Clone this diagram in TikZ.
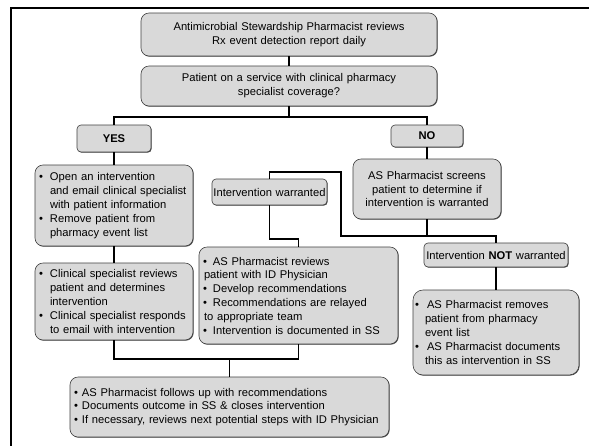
\documentclass[tikz,border=0pt]{standalone}
\usepackage{fontspec}
\setmainfont{Liberation Sans}
\usetikzlibrary{shadows}
\newcommand\bl[1]{\makebox[#1][l]{\textbullet}}
\newcommand\ind[1]{\hspace*{#1}}
\begin{document}
\begin{tikzpicture}[x=1pt,y=-1pt,
  box/.style={draw=black!75, fill=black!15, line width=0.6pt, rounded corners=8pt,
    inner xsep=4pt, inner ysep=0pt, font=\fontsize{11.2}{13.8}\selectfont,
    drop shadow={shadow xshift=0.7pt, shadow yshift=-0.7pt, fill=black!70, opacity=1}},
  sbox/.style={box, rounded corners=4pt},
  ctr/.style={align=center},
  lft/.style={align=left},
  link/.style={line width=1.8pt, draw=black},
  frame/.style={line width=2.3pt, draw=black}
]
\useasboundingbox (0,0) rectangle (589,445);
\fill[white] (0,0) rectangle (589,445);
\draw[frame] (589,8) -- (11,8) -- (11,446);

% nodes
\node[box, ctr, text width=288pt, minimum height=43pt] (b1) at (289,34.5)
  {Antimicrobial Stewardship Pharmacist reviews\\Rx event detection report daily};
\node[box, ctr, text width=288pt, minimum height=40pt] (b2) at (289,86)
  {Patient on a service with clinical pharmacy\\specialist coverage?};
\node[sbox, ctr, text width=66pt, minimum height=27pt] (yes) at (114,138.5) {\textbf{YES}};
\node[sbox, ctr, text width=64pt, minimum height=22pt] (no) at (427,136) {\textbf{NO}};
\node[box, lft, text width=150pt, minimum height=81pt] (b3) at (114,205.5)
  {\bl{11pt}Open an intervention\\
   \ind{11pt}and email clinical specialist\\
   \ind{11pt}with patient information\\
   \bl{11pt}Remove patient from\\
   \ind{11pt}pharmacy event list};
\node[box, lft, text width=150pt, minimum height=77pt] (b4) at (114,301.5)
  {\bl{11pt}Clinical specialist reviews\\
   \ind{11pt}patient and determines\\
   \ind{11pt}intervention\\
   \bl{11pt}Clinical specialist responds\\
   \ind{11pt}to email with intervention};
\node[sbox, ctr, inner xsep=1pt, text width=113pt, minimum height=26pt] (iw) at (269.5,192)
  {Intervention warranted};
\node[box, lft, text width=191pt, minimum height=97pt] (b5) at (298.5,295.5)
  {\bl{10pt}AS Pharmacist reviews\\
   \ind{1pt}patient with ID Physician\\
   \bl{10pt}Develop recommendations\\
   \bl{10pt}Recommendations are relayed\\
   \ind{1pt}to appropriate team\\
   \bl{10pt}Intervention is documented in SS};
\node[box, ctr, text width=140pt, minimum height=60pt] (scr) at (427,189)
  {AS Pharmacist screens\\patient to determine if\\intervention is warranted};
\node[sbox, ctr, inner xsep=1pt, text width=142pt, minimum height=24pt] (inw) at (496,255)
  {Intervention \textbf{NOT} warranted};
\node[box, lft, inner xsep=2pt, text width=162pt, minimum height=85pt, rounded corners=10pt] (b7) at (496,332.5)
  {\bl{12pt}AS Pharmacist removes\\
   \ind{10pt}patient from pharmacy\\
   \ind{10pt}event list\\
   \bl{12pt}AS Pharmacist documents\\
   \ind{10pt}this as intervention in SS};
\node[box, lft, text width=311pt, minimum height=60pt] (b6) at (229.5,407)
  {\bl{8pt}AS Pharmacist follows up with recommendations\\
   \bl{8pt}Documents outcome in SS \& closes intervention\\
   \bl{8pt}If necessary, reviews next potential steps with ID Physician};

% junction coordinates
\coordinate (j1) at (289,117);
\coordinate (j3) at (341,236);
\coordinate (j4) at (341,172);
\coordinate (j5) at (269.5,239);
\coordinate (j7) at (298.5,359);

% connectors
\draw[link] (b1.south) -- (b2.north);
\draw[link] (b2.south) -- (j1);
\draw[link] (yes.north) |- (j1) -| (no.north);
\draw[link] (yes.south) -- (b3.north);
\draw[link] (b3.south) -- (b4.north);
\draw[link] (no.south) -- (scr.north);
\draw[link] (iw.north) |- (j4) -- (j3) -| (inw.north);
\draw[link] (scr.south) -- (scr.south |- j3);
\draw[link] (iw.south) -- (j5) -| (b5.north);
\draw[link] (b4.south) |- (j7) -- (b5.south);
\draw[link] (b6.north) -- (b6.north |- j7);
\draw[link] (inw.south) -- (b7.north);
\end{tikzpicture}
\end{document}
